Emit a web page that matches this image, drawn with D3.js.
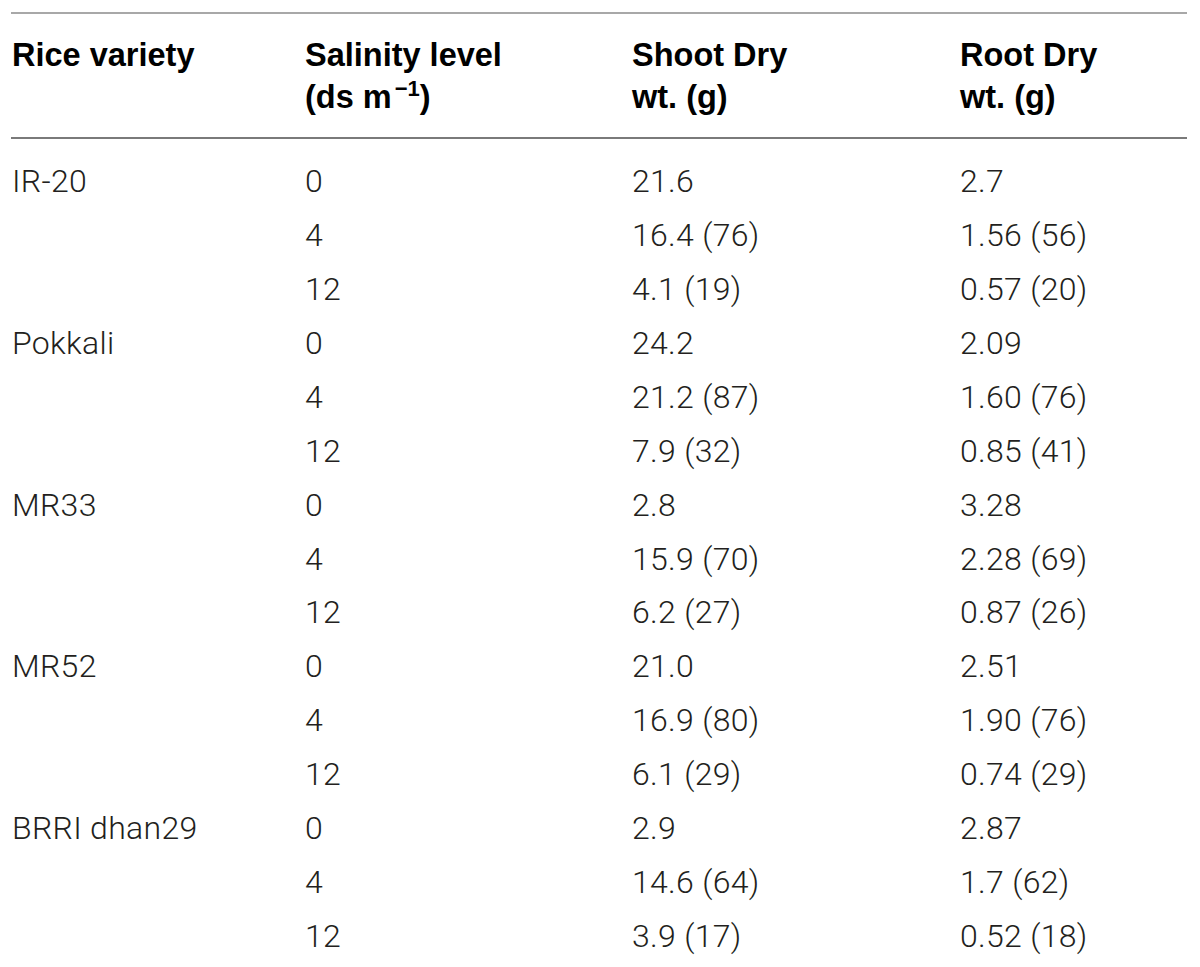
<!DOCTYPE html>
<html>
<head>
<meta charset="utf-8">
<script src="https://cdn.jsdelivr.net/npm/d3@7"></script>
<style>
  html, body { margin: 0; padding: 0; background: #fff; }
  svg { display: block; }
  .cell { font-family: Roboto, "Liberation Sans", sans-serif; font-weight: 300; font-size: 32px; letter-spacing: 0.3px; fill: #231f20; }
  .head { font-family: "Liberation Sans", Arial, sans-serif; font-weight: bold; font-size: 32.5px; fill: #000; }
</style>
</head>
<body>
<svg id="tabela"></svg>
<script>
// dados da tabela
const columns = ["Rice variety", "Salinity level", "Shoot Dry", "Root Dry"];
const columnsLine2 = ["", "(ds m", "wt. (g)", "wt. (g)"];
const varieties = ["IR-20", "Pokkali", "MR33", "MR52", "BRRI dhan29"];
const salinityLevels = ["0", "4", "12"];
const shootDry = ["21.6", "16.4 (76)", "4.1 (19)", "24.2", "21.2 (87)", "7.9 (32)",
  "2.8", "15.9 (70)", "6.2 (27)", "21.0", "16.9 (80)", "6.1 (29)",
  "2.9", "14.6 (64)", "3.9 (17)"];
const rootDry = ["2.7", "1.56 (56)", "0.57 (20)", "2.09", "1.60 (76)", "0.85 (41)",
  "3.28", "2.28 (69)", "0.87 (26)", "2.51", "1.90 (76)", "0.74 (29)",
  "2.87", "1.7 (62)", "0.52 (18)"];

const width = 1200, height = 967;

// monta as linhas: variedade so aparece na primeira linha de cada grupo
let rows = [];
varieties.forEach((v, i) => {
  salinityLevels.forEach((s, j) => {
    let k = i * salinityLevels.length + j;
    rows.push([j === 0 ? v : "", s, shootDry[k], rootDry[k]]);
  });
});

let svg = d3.select("#tabela")
  .attr("width", width)
  .attr("height", height);

let x = d3.scaleOrdinal()
  .domain(d3.range(columns.length))
  .range([12, 305, 632, 960]);

let y = d3.scaleLinear()
  .domain([0, rows.length - 1])
  .range([192, 947]);

// linhas horizontais
svg.append("line")
  .attr("x1", 11).attr("x2", 1187)
  .attr("y1", 13).attr("y2", 13)
  .attr("stroke", "#a8a8a8").attr("stroke-width", 2);

svg.append("line")
  .attr("x1", 11).attr("x2", 1187)
  .attr("y1", 138).attr("y2", 138)
  .attr("stroke", "#7a7a7a").attr("stroke-width", 2);

// cabecalho
let head = svg.append("g");
head.selectAll("text.l1")
  .data(columns)
  .enter()
  .append("text")
  .attr("class", "head l1")
  .attr("x", (d, i) => x(i))
  .attr("y", 66)
  .text(d => d);

let l2 = head.selectAll("text.l2")
  .data(columnsLine2)
  .enter()
  .append("text")
  .attr("class", "head l2")
  .attr("x", (d, i) => x(i))
  .attr("y", 108);

l2.append("tspan").text(d => d);
// (ds m^-1)
l2.filter((d, i) => i === 1)
  .call(t => {
    t.append("tspan").attr("dx", 3).attr("dy", -12).style("font-size", "22px").text("\u22121");
    t.append("tspan").attr("dy", 12).text(")");
  });

// corpo
let body = svg.append("g");
let row = body.selectAll("g")
  .data(rows)
  .enter()
  .append("g")
  .attr("transform", (d, i) => `translate(0, ${y(i)})`);

row.selectAll("text")
  .data(d => d)
  .enter()
  .append("text")
  .attr("class", "cell")
  .attr("x", (d, i) => x(i))
  .text(d => d);
</script>
</body>
</html>
